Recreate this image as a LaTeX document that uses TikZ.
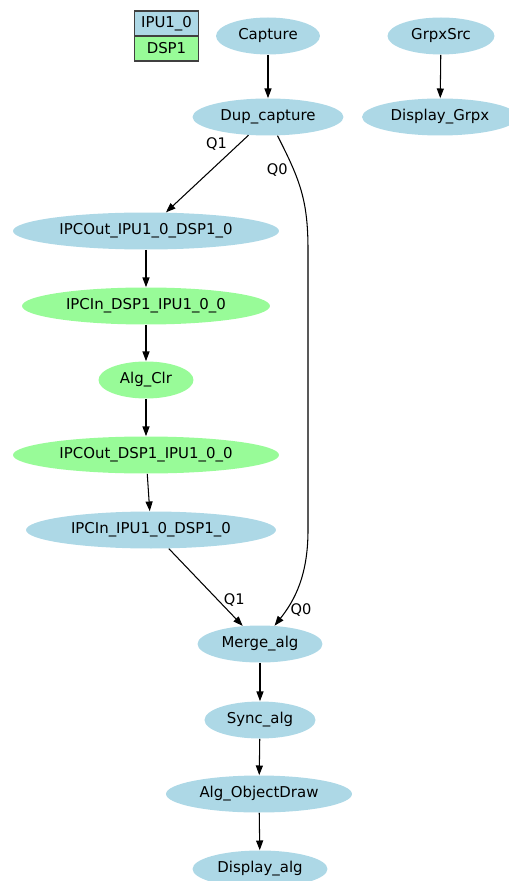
\documentclass[tikz,border=0pt]{standalone}
\usepackage{fontspec}
\setmainfont{DejaVu Sans}
\usetikzlibrary{arrows.meta, positioning, shapes.geometric}
\definecolor{ipublue}{RGB}{173, 216, 230}
\definecolor{dspgreen}{RGB}{152, 251, 152}
\tikzset{
  bluenode/.style={ellipse, fill=ipublue, inner sep=0pt, minimum height=0.74cm,
              font=\fontsize{8.5}{10}\selectfont},
  greennode/.style={ellipse, fill=dspgreen, inner sep=0pt, minimum height=0.74cm,
              font=\fontsize{8.5}{10}\selectfont},
  legendbox/.style={rectangle, draw=black!75, line width=0.6pt, minimum width=1.28cm,
              minimum height=0.5cm, inner sep=0pt, font=\fontsize{8.5}{10}\selectfont},
  flow/.style={-{Triangle[length=5.5pt, width=4pt]}, line width=0.6pt, draw=black},
  lbl/.style={font=\fontsize{8.3}{10}\selectfont},
}
\begin{document}
\begin{tikzpicture}[x=0.02cm, y=-0.02cm]
    \useasboundingbox (0,0) rectangle (509,881);
    % legend
    \node[legendbox, fill=ipublue] (lgipu) at (166.5,23.5) {IPU1\_0};
    \node[legendbox, fill=dspgreen, below=-0.6pt of lgipu] (lgdsp) {DSP1};

    \node[bluenode, minimum width=2.08cm] (capture) at (268,36) {Capture};
    \node[bluenode, minimum width=2.14cm] (grpxsrc) at (441,36) {GrpxSrc};
    \node[bluenode, minimum width=3.02cm] (dup) at (268,117) {Dup\_capture};
    \node[bluenode, minimum width=3.12cm] (dispgrpx) at (440,117) {Display\_Grpx};
    \node[bluenode, minimum width=5.32cm] (ipcout1) at (146,231) {IPCOut\_IPU1\_0\_DSP1\_0};
    \node[greennode, minimum width=4.96cm] (ipcin1) at (146,306) {IPCIn\_DSP1\_IPU1\_0\_0};
    \node[greennode, minimum width=1.90cm] (algclr) at (146,380) {Alg\_Clr};
    \node[greennode, minimum width=5.32cm] (ipcout2) at (146,455) {IPCOut\_DSP1\_IPU1\_0\_0};
    \node[bluenode, minimum width=5.00cm] (ipcin2) at (151,530) {IPCIn\_IPU1\_0\_DSP1\_0};
    \node[bluenode, minimum width=2.50cm] (merge) at (260,644) {Merge\_alg};
    \node[bluenode, minimum width=2.22cm] (sync) at (260,720) {Sync\_alg};
    \node[bluenode, minimum width=3.72cm] (objdraw) at (259,794) {Alg\_ObjectDraw};
    \node[bluenode, minimum width=2.70cm] (dispalg) at (260,869) {Display\_alg};

    \draw[flow] (capture)--(dup);
    \draw[flow] (grpxsrc)--(dispgrpx);
    \draw[flow] (dup)--(ipcout1) node[lbl, pos=0.12, left=3pt]{Q1};
    \draw[flow] (ipcout1)--(ipcin1);
    \draw[flow] (ipcin1)--(algclr);
    \draw[flow] (algclr)--(ipcout2);
    \draw[flow] (ipcout2)--(ipcin2);
    \draw[flow] (ipcin2)--(merge) node[lbl, pos=0.66, right]{Q1};
    \draw[flow] (dup) .. controls (300,180) and (308,200) .. node[lbl, pos=0.3, left]{Q0} (308,250)
        -- (308,530) .. controls (308,575) and (295,600) .. node[lbl, pos=0.8, right=-1pt]{Q0} (merge);
    \draw[flow] (merge)--(sync);
    \draw[flow] (sync)--(objdraw);
    \draw[flow] (objdraw)--(dispalg);
  \end{tikzpicture}
\end{document}
